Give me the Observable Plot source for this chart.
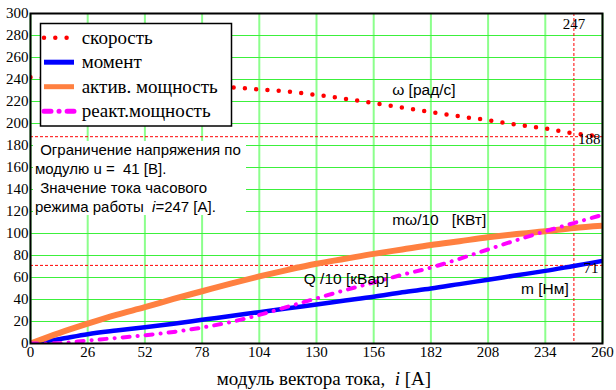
<!DOCTYPE html>
<html><head><meta charset="utf-8">
<script src="https://cdn.jsdelivr.net/npm/d3@7"></script>
<script src="https://cdn.jsdelivr.net/npm/@observablehq/plot@0.6"></script>
<style>body{margin:0;background:#fff} svg{display:block}</style>
</head><body><div id="chart"></div>
<script>
// ---- data ----
const current       = [0, 13, 26, 39, 52, 65, 78, 91, 104, 117, 130, 143, 156, 169, 182, 195, 208, 221, 234, 247, 260];
const speed         = [242, 241, 240, 239, 238, 236.5, 235, 233, 231, 229, 226, 222.5, 218.5, 214.5, 210.5, 206.5, 203, 199, 195.5, 191, 188];
const torque        = [0, 4, 8.5, 11.8, 14.8, 18, 21.5, 25, 28.5, 32, 35.5, 39, 42.5, 46.5, 50, 54, 58, 62, 66, 70.5, 75];
const activePower   = [0, 9.5, 18, 26, 33, 40.5, 47.5, 54.5, 61, 67, 72.5, 77, 81.5, 85.5, 89.5, 93, 96.5, 99.5, 102, 105, 107];
const reactivePower = [0, 0.3, 2.7, 5, 7.5, 10.5, 14.5, 19.5, 26, 33.5, 41, 48.5, 55.5, 62.5, 69, 77, 85.5, 94, 102, 109.5, 117];

const xTicks = [0, 26, 52, 78, 104, 130, 156, 182, 208, 234, 260];
const yTicks = [0, 20, 40, 60, 80, 100, 120, 140, 160, 180, 200, 220, 240, 260, 280, 300];

const limitCurrent = 247;
const limitSpeed = 188;
const limitTorque = 71;

const seriesNames = ["скорость", "момент", "актив. мощность", "реакт.мощность"];

const curveLabels = [
  {x: 164.4, y: 230,   text: "ω [рад/с]"},
  {x: 164.4, y: 112.4, text: "mω/10\u00a0\u00a0\u00a0[КВт]"},
  {x: 124.2, y: 58.8,  text: "Q /10 [кВар]"},
  {x: 223,   y: 49.7,  text: "m [Нм]"}
];

// ---- styles ----
const styles = [
  {stroke: "#ff0000", strokeWidth: 4.5, strokeDasharray: "0 11.3", strokeLinecap: "round"},
  {stroke: "#0000ff", strokeWidth: 4.5, strokeDasharray: null, strokeLinecap: "butt"},
  {stroke: "#ff8040", strokeWidth: 6, strokeDasharray: null, strokeLinecap: "butt"},
  {stroke: "#ff00ff", strokeWidth: 4, strokeDasharray: "7 8 0.1 8", strokeLinecap: "round"}
];

const rows = current.map((c, k) => ({i: c, speed: speed[k], torque: torque[k], active: activePower[k], reactive: reactivePower[k]}));
const fields = ["speed", "torque", "active", "reactive"];

function lineMark(idx) {
  const s = styles[idx];
  const o = {x: "i", y: fields[idx], stroke: s.stroke, strokeWidth: s.strokeWidth, strokeLinecap: s.strokeLinecap, curve: "monotone-x", clip: true};
  if (s.strokeDasharray) o.strokeDasharray = s.strokeDasharray;
  return Plot.line(rows, o);
}

const serif = "'Liberation Serif', 'Times New Roman', serif";
const sans = "'Liberation Sans', Arial, sans-serif";
const gridV = {stroke: "#8cff8c", strokeOpacity: 1, strokeWidth: 2};
const gridH = {stroke: "#3cf03c", strokeOpacity: 1, strokeWidth: 1.2};
const refLine = {stroke: "#ff0000", strokeWidth: 1, strokeDasharray: "3,2"};

const plot = Plot.plot({
  width: 616, height: 390,
  marginLeft: 30, marginRight: 14, marginTop: 13, marginBottom: 47,
  style: {fontFamily: serif, fontSize: "15px", color: "#000", background: "#fff"},
  x: {domain: [0, 260], label: null},
  y: {domain: [0, 300], label: null},
  marks: [
    Plot.gridX(xTicks, gridV),
    Plot.gridY(yTicks, gridH),
    Plot.ruleY([limitSpeed, limitTorque], refLine),
    Plot.ruleX([limitCurrent], refLine),
    lineMark(0),
    lineMark(1),
    lineMark(2),
    lineMark(3),
    Plot.axisX(xTicks, {tickSize: 0, tickPadding: 3, fontSize: 15, fontFamily: serif}),
    Plot.axisY(yTicks, {tickSize: 0, tickPadding: 2, fontSize: 15, fontFamily: serif}),
    Plot.frame({stroke: "#000", strokeWidth: 2}),
    Plot.text(curveLabels, {x: "x", y: "y", text: "text", textAnchor: "start", fontFamily: sans, fontSize: 15.5, fill: "#000", ariaLabel: "curve-labels"}),
    Plot.text([limitCurrent], {x: d => d, frameAnchor: "top", lineAnchor: "middle", dy: 11, text: d => String(d), fontFamily: serif, fontSize: 15}),
    Plot.text([limitSpeed], {x: () => limitCurrent, y: d => d, dx: 4, dy: 2, textAnchor: "start", text: d => String(d), fontFamily: serif, fontSize: 15}),
    Plot.text([limitTorque], {x: () => 260, y: d => d, dx: -4, dy: 3, textAnchor: "end", text: d => String(d), fontFamily: serif, fontSize: 15})
  ]
});

document.getElementById("chart").appendChild(plot);
const svg = d3.select(plot);

// white backgrounds behind curve labels
svg.selectAll('g[aria-label="curve-labels"] text').each(function() {
  const b = this.getBBox();
  d3.select(this.parentNode).insert("rect", () => this)
    .attr("x", b.x - 2).attr("y", b.y - 1).attr("width", b.width + 4).attr("height", b.height + 2)
    .attr("fill", "#fff");
});

// legend
const lg = svg.append("g").attr("text-anchor", "start");
lg.append("rect").attr("x", 40.5).attr("y", 23.5).attr("width", 191).attr("height", 102.5)
  .attr("fill", "#fff").attr("stroke", "#000").attr("stroke-width", 1.5);
seriesNames.forEach((name, k) => {
  const cy = 37.7 + k * 24.5;
  const s = styles[k];
  const ln = lg.append("line").attr("x1", 44).attr("x2", 74).attr("y1", cy).attr("y2", cy)
    .attr("stroke", s.stroke).attr("stroke-width", k === 0 ? 4.5 : 5).attr("stroke-linecap", s.strokeLinecap);
  if (s.strokeDasharray) ln.attr("stroke-dasharray", s.strokeDasharray);
  lg.append("text").attr("x", 81.7).attr("y", cy).attr("dy", "0.32em").attr("text-anchor", "start")
    .attr("font-family", serif).attr("font-size", 19).attr("fill", "#000").text(name);
});

// info block
const info = svg.append("g").attr("font-family", sans).attr("font-size", 15).attr("fill", "#000").attr("text-anchor", "start");
info.append("rect").attr("x", 33).attr("y", 141).attr("width", 213).attr("height", 74).attr("fill", "#fff");
const infoLines = [
  {x: 36, t: [[" Ограничение напряжения по", false]]},
  {x: 35, t: [["модулю u =  41 [В].", false]]},
  {x: 36, t: [[" Значение тока часового", false]]},
  {x: 35, t: [["режима работы  ", false], ["i", true], ["=247 [A].", false]]}
];
infoLines.forEach((l, k) => {
  const tx = info.append("text").attr("x", l.x).attr("y", 150 + k * 19).attr("dy", "0.35em")
    .attr("text-anchor", "start").style("white-space", "pre");
  l.t.forEach(([s, it]) => tx.append("tspan").attr("font-style", it ? "italic" : "normal").text(s));
});

// x axis title
const title = svg.append("text").attr("x", 324).attr("y", 385).attr("text-anchor", "middle")
  .attr("font-family", serif).attr("font-size", 19).attr("fill", "#000").style("white-space", "pre");
title.append("tspan").text("модуль вектора тока,  ");
title.append("tspan").attr("font-style", "italic").text("i");
title.append("tspan").text(" [A]");
</script>
</body></html>
